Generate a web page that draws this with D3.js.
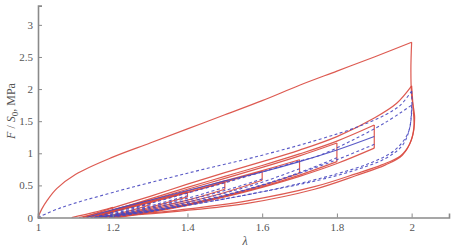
<!DOCTYPE html>
<html>
<head>
<meta charset="utf-8">
<script src="https://cdn.jsdelivr.net/npm/d3@7"></script>
<style>
  body { margin: 0; background: #fff; }
  svg { display: block; }
  text { font-family: "Liberation Serif", "Times New Roman", "DejaVu Serif", serif; }
</style>
</head>
<body>
<div id="chart"></div>
<script>
// AXIS TICKS
const xTicks = [1, 1.2, 1.4, 1.6, 1.8, 2];
const yTicks = [0, 0.5, 1, 1.5, 2, 2.5, 3];

// EXPERIMENT (red, solid) : [lambda, F/S0]
const redVirginLoad = [[1, 0], [1.01, 0.13], [1.025, 0.27], [1.05, 0.45], [1.1, 0.67], [1.2, 0.94], [1.3, 1.16], [1.4, 1.38], [1.5, 1.6], [1.6, 1.82], [1.7, 2.06], [1.8, 2.28], [1.9, 2.5], [2.0, 2.73]];
const redVirginUnload = [[2.0, 2.73], [1.998, 2.3], [2.0, 1.9], [2.008, 1.55], [2.0, 1.22], [1.975, 0.97], [1.93, 0.82], [1.85, 0.65], [1.74, 0.44], [1.56, 0.22], [1.38, 0.1], [1.25, 0.035], [1.15, 0]];
const redReload = [[1.12, 0], [1.2, 0.15], [1.3, 0.33], [1.4, 0.52], [1.5, 0.7], [1.6, 0.87], [1.7, 1.05], [1.8, 1.26], [1.9, 1.55], [1.96, 1.78], [2.0, 2.05]];
const redReloadUnload = [[2.0, 2.05], [2.004, 1.7], [2.006, 1.4], [1.995, 1.15], [1.97, 0.96], [1.92, 0.82], [1.85, 0.68], [1.74, 0.48], [1.56, 0.26], [1.38, 0.12], [1.25, 0.045], [1.16, 0]];

// cycles: max stretch, force at top / after relaxation
const cycleMax = [1.2, 1.3, 1.4, 1.5, 1.6, 1.7, 1.8, 1.9];
const cycleTop = [0.16, 0.27, 0.4, 0.55, 0.72, 0.9, 1.16, 1.44];
const cycleBottom = [0.1, 0.2, 0.32, 0.44, 0.58, 0.69, 0.87, 1.08];

const redCycleLoad = [
  [[1.09, 0], [1.15, 0.08], [1.2, 0.16]],
  [[1.11, 0], [1.2, 0.12], [1.3, 0.27]],
  [[1.13, 0], [1.2, 0.1], [1.3, 0.25], [1.4, 0.4]],
  [[1.15, 0], [1.2, 0.09], [1.3, 0.24], [1.4, 0.39], [1.5, 0.55]],
  [[1.16, 0], [1.2, 0.08], [1.3, 0.23], [1.4, 0.39], [1.5, 0.55], [1.6, 0.72]],
  [[1.16, 0], [1.2, 0.09], [1.3, 0.25], [1.4, 0.41], [1.5, 0.57], [1.6, 0.73], [1.7, 0.9]],
  [[1.15, 0], [1.2, 0.1], [1.3, 0.27], [1.4, 0.44], [1.5, 0.61], [1.6, 0.78], [1.7, 0.96], [1.8, 1.16]],
  [[1.14, 0], [1.2, 0.11], [1.3, 0.29], [1.4, 0.47], [1.5, 0.64], [1.6, 0.81], [1.7, 0.99], [1.8, 1.19], [1.9, 1.44]]
];
const redCycleUnload = [
  [[1.2, 0.1], [1.16, 0.04], [1.12, 0]],
  [[1.3, 0.2], [1.25, 0.11], [1.2, 0.04], [1.16, 0]],
  [[1.4, 0.32], [1.3, 0.16], [1.22, 0.05], [1.17, 0]],
  [[1.5, 0.44], [1.4, 0.27], [1.3, 0.14], [1.22, 0.04], [1.18, 0]],
  [[1.6, 0.58], [1.5, 0.39], [1.4, 0.24], [1.3, 0.12], [1.22, 0.03], [1.19, 0]],
  [[1.7, 0.69], [1.6, 0.5], [1.5, 0.34], [1.4, 0.21], [1.3, 0.1], [1.22, 0.025], [1.2, 0]],
  [[1.8, 0.87], [1.7, 0.66], [1.6, 0.48], [1.5, 0.33], [1.4, 0.2], [1.3, 0.09], [1.23, 0.02], [1.2, 0]],
  [[1.9, 1.08], [1.8, 0.84], [1.7, 0.64], [1.6, 0.47], [1.5, 0.32], [1.4, 0.19], [1.3, 0.08], [1.23, 0.015], [1.21, 0]]
];

// MODEL (blue)
const blueVirginLoad = [[1, 0], [1.06, 0.15], [1.2, 0.39], [1.4, 0.69], [1.6, 0.97], [1.755, 1.22], [1.85, 1.4], [1.93, 1.6], [1.97, 1.75], [2.0, 1.97]];
const blueVirginUnload = [[2.0, 1.97], [2.0, 1.63], [1.99, 1.31], [1.955, 1.05], [1.89, 0.85], [1.8, 0.68], [1.7, 0.53], [1.6, 0.4], [1.5, 0.29], [1.4, 0.19], [1.3, 0.1], [1.2, 0.03], [1.14, 0]];
const blueReload = [[1.15, 0], [1.2, 0.08], [1.3, 0.22], [1.4, 0.38], [1.5, 0.54], [1.6, 0.71], [1.7, 0.88], [1.755, 0.97], [1.84, 1.2], [1.93, 1.48], [2.0, 1.75]];
const blueReloadUnload = [[2.0, 1.75], [1.995, 1.4], [1.975, 1.12], [1.93, 0.92], [1.85, 0.74], [1.75, 0.58], [1.6, 0.4], [1.45, 0.24], [1.3, 0.11], [1.2, 0.04], [1.15, 0]];
const blueSteps = [[1.13, 0], [1.2, 0.12], [1.3, 0.27], [1.4, 0.42], [1.5, 0.57], [1.6, 0.71], [1.7, 0.87], [1.8, 1.05], [1.9, 1.26]];
const blueCycleUnload = [
  [[1.3, 0.22], [1.25, 0.13], [1.2, 0.06], [1.15, 0]],
  [[1.4, 0.34], [1.3, 0.18], [1.22, 0.07], [1.16, 0]],
  [[1.5, 0.47], [1.4, 0.3], [1.3, 0.16], [1.22, 0.06], [1.17, 0]],
  [[1.6, 0.6], [1.5, 0.42], [1.4, 0.27], [1.3, 0.14], [1.22, 0.05], [1.18, 0]],
  [[1.7, 0.76], [1.6, 0.55], [1.5, 0.38], [1.4, 0.24], [1.3, 0.12], [1.22, 0.04], [1.19, 0]],
  [[1.8, 0.93], [1.7, 0.7], [1.6, 0.51], [1.5, 0.35], [1.4, 0.22], [1.3, 0.1], [1.22, 0.03], [1.19, 0]],
  [[1.9, 1.14], [1.8, 0.9], [1.7, 0.69], [1.6, 0.5], [1.5, 0.34], [1.4, 0.2], [1.3, 0.09], [1.2, 0.01], [1.19, 0]]
];

// SIZE
const svgWidth = 452;
const svgHeight = 248;
const serif = "'Liberation Serif', 'Times New Roman', 'DejaVu Serif', serif";

const xScale = d3.scaleLinear().domain([1, 2.1]).range([38, 449]);
const yScale = d3.scaleLinear().domain([0, 3.3]).range([217.5, 5.6]);

const svg = d3.select("#chart")
  .append("svg")
  .attr("width", svgWidth)
  .attr("height", svgHeight)
  .attr("font-family", serif);

svg.append("rect").attr("width", svgWidth).attr("height", svgHeight).attr("fill", "#fff");

const line = d3.line()
  .x(d => xScale(d[0]))
  .y(d => yScale(d[1]))
  .curve(d3.curveCatmullRom.alpha(0.5));

const plot = svg.append("g");

const red = "#d9483e";
const blue = "#4848c0";

const drawRed = pts => plot.append("path")
  .attr("d", line(pts))
  .attr("fill", "none")
  .attr("stroke", red)
  .attr("stroke-width", 1.2)
  .attr("stroke-opacity", 0.9);

const drawBlue = (pts, dashed) => plot.append("path")
  .attr("d", line(pts))
  .attr("fill", "none")
  .attr("stroke", blue)
  .attr("stroke-width", 1.1)
  .attr("stroke-dasharray", dashed ? "3,2.5" : null)
  .attr("stroke-opacity", 0.9);

// RED CURVES
drawRed(redVirginLoad);
drawRed(redVirginUnload);
drawRed(redReload);
drawRed(redReloadUnload);
redCycleLoad.forEach(drawRed);
redCycleUnload.forEach(drawRed);
// relaxation drops
cycleMax.forEach((m, i) => {
  drawRed([[m, cycleTop[i]], [m, cycleBottom[i]]]);
});

// BLUE CURVES
drawBlue(blueVirginLoad, true);
drawBlue(blueVirginUnload, true);
drawBlue(blueReload, true);
drawBlue(blueReloadUnload, true);
blueCycleUnload.forEach(d => drawBlue(d, true));
drawBlue(blueSteps, false);

// AXES
const axisColor = "#8a8a8a";
const xAxis = d3.axisBottom(xScale).tickValues(xTicks).tickSize(-4).tickPadding(6)
  .tickFormat(d => d3.format("~g")(d));
const yAxis = d3.axisLeft(yScale).tickValues(yTicks).tickSize(-4).tickPadding(5)
  .tickFormat(d => d3.format("~g")(d));

const gx = svg.append("g")
  .attr("transform", `translate(0,${yScale(0)})`)
  .call(xAxis);
const gy = svg.append("g")
  .attr("transform", `translate(${xScale(1)},0)`)
  .call(yAxis);

[gx, gy].forEach(g => {
  g.attr("font-family", serif).attr("font-size", 11);
  g.select(".domain").attr("stroke", axisColor).attr("stroke-width", 1.6);
  g.selectAll(".tick line").attr("stroke", axisColor);
  g.selectAll(".tick text").attr("fill", "#555");
});

// AXIS LABELS
svg.append("text")
  .attr("x", 245)
  .attr("y", 245)
  .attr("text-anchor", "middle")
  .attr("fill", "#555")
  .attr("font-size", 12)
  .style("font-style", "italic")
  .text("λ");

const yLabel = svg.append("text")
  .attr("transform", "translate(15,111) rotate(-90)")
  .attr("text-anchor", "middle")
  .attr("fill", "#555")
  .attr("font-size", 12);
yLabel.append("tspan").style("font-style", "italic").text("F");
yLabel.append("tspan").text(" / ");
yLabel.append("tspan").style("font-style", "italic").text("S");
yLabel.append("tspan").attr("dy", 3).attr("font-size", 9).text("0");
yLabel.append("tspan").attr("dy", -3).text(", MPa");
</script>
</body>
</html>
